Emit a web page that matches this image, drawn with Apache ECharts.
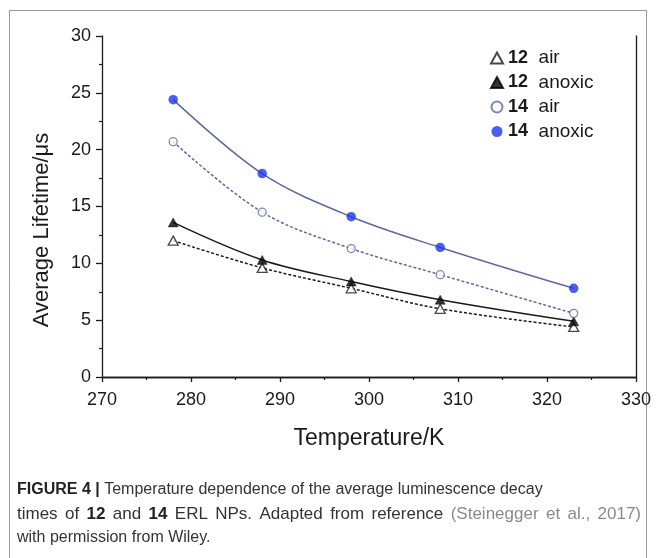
<!DOCTYPE html>
<html>
<head>
<meta charset="utf-8">
<script src="https://cdn.jsdelivr.net/npm/echarts@6/dist/echarts.min.js"></script>
<style>
html,body{margin:0;padding:0;background:#fff;}
#chart{width:657px;height:558px;}
</style>
</head>
<body>
<div id="chart"></div>
<script>
// Data
var temperatures = [278, 288, 298, 308, 323];
var air12 = [12.0, 9.6, 7.8, 6.0, 4.4];
var anoxic12 = [13.6, 10.3, 8.4, 6.8, 4.9];
var air14 = [20.7, 14.5, 11.3, 9.0, 5.6];
var anoxic14 = [24.4, 17.9, 14.1, 11.4, 7.8];
var seriesNames = ['12 air', '12 anoxic', '14 air', '14 anoxic'];
var xTickMin = 270, xTickMax = 330, xTickStep = 10;
var yTickMin = 0, yTickMax = 30, yTickStep = 5;

function pairs(xs, ys) { return xs.map(function (x, i) { return [x, ys[i]]; }); }

var FONT = '"Liberation Sans", Arial, sans-serif';
var blueLine = '#5d6a9e';
var blueFill = '#1f35ec';

var chart = echarts.init(document.getElementById('chart'), null, {renderer: 'canvas'});

function fitLine(name, ys, color, dashed) {
  return {
    name: name, type: 'line', data: pairs(temperatures, ys),
    smooth: 0.35, showSymbol: false, symbol: 'none', silent: true,
    lineStyle: {color: color, width: 1.5, type: dashed ? [3, 2] : 'solid'},
    z: 2
  };
}

// caption line 2, spread across the full caption width
var captionY = [490, 514, 538];
var capLeft = 17, capRight = 641;
var line2Words = [
  ['times', 'n'], ['of', 'n'], ['12', 'b'], ['and', 'n'], ['14', 'b'], ['ERL', 'n'], ['NPs.', 'n'],
  ['Adapted', 'n'], ['from', 'n'], ['reference', 'n'], ['(Steinegger', 'g'], ['et', 'g'], ['al.,', 'g'], ['2017)', 'g']
];
var styleFor = {
  n: {font: '17px ' + FONT, fill: '#333'},
  b: {font: 'bold 17px ' + FONT, fill: '#222'},
  g: {font: '17px ' + FONT, fill: '#8a8a8a'}
};
var mctx = document.createElement('canvas').getContext('2d');
var widths = line2Words.map(function (w) { mctx.font = styleFor[w[1]].font; return mctx.measureText(w[0]).width; });
var totalW = widths.reduce(function (a, b) { return a + b; }, 0);
var gap = (capRight - capLeft - totalW) / (line2Words.length - 1);
var line2Graphics = [];
var cx = capLeft;
line2Words.forEach(function (w, i) {
  line2Graphics.push({type: 'text', x: cx, y: captionY[1], silent: true,
    style: {text: w[0], font: styleFor[w[1]].font, fill: styleFor[w[1]].fill, verticalAlign: 'middle'}});
  cx += widths[i] + gap;
});

var option = {
  backgroundColor: '#fff',
  animation: false,
  textStyle: {fontFamily: FONT},
  grid: {left: 102, right: 21, top: 36, bottom: 181, containLabel: false},
  xAxis: [{
    type: 'value', min: xTickMin, max: xTickMax, interval: xTickStep,
    name: 'Temperature/K', nameLocation: 'middle', nameGap: 50,
    nameTextStyle: {fontSize: 23, color: '#1a1a1a', fontFamily: FONT},
    axisLine: {show: true, lineStyle: {color: '#1a1a1a', width: 1.3}},
    axisTick: {show: true, inside: false, length: 5, lineStyle: {color: '#1a1a1a', width: 1.3}},
    minorTick: {show: true, splitNumber: 2, length: 3, lineStyle: {color: '#1a1a1a', width: 1.2}},
    axisLabel: {fontSize: 18, color: '#1a1a1a', margin: 14, fontFamily: FONT},
    splitLine: {show: false}
  }, {
    type: 'value', min: xTickMin, max: xTickMax, position: 'top',
    axisLine: {show: true, lineStyle: {color: '#1a1a1a', width: 1.3}},
    axisTick: {show: false}, axisLabel: {show: false}, splitLine: {show: false}
  }],
  yAxis: [{
    type: 'value', min: yTickMin, max: yTickMax, interval: yTickStep,
    axisLine: {show: true, lineStyle: {color: '#1a1a1a', width: 1.3}},
    axisTick: {show: true, inside: false, length: 6, lineStyle: {color: '#1a1a1a', width: 1.3}},
    minorTick: {show: true, splitNumber: 2, length: 3, lineStyle: {color: '#1a1a1a', width: 1.2}},
    axisLabel: {fontSize: 18, color: '#1a1a1a', margin: 11, fontFamily: FONT},
    splitLine: {show: false}
  }, {
    type: 'value', min: yTickMin, max: yTickMax, position: 'right',
    axisLine: {show: true, lineStyle: {color: '#1a1a1a', width: 1.3}},
    axisTick: {show: false}, axisLabel: {show: false}, splitLine: {show: false}
  }],
  legend: {
    orient: 'vertical', left: 485, top: 43,
    itemWidth: 12, itemHeight: 11, itemGap: 4.5,
    data: [
      {name: seriesNames[0], icon: 'triangle'},
      {name: seriesNames[1], icon: 'triangle'},
      {name: seriesNames[2], icon: 'circle'},
      {name: seriesNames[3], icon: 'circle'}
    ],
    formatter: function (name) {
      var parts = name.split(' ');
      return '{b|' + parts[0] + '}  ' + parts[1];
    },
    textStyle: {
      fontSize: 19, color: '#1a1a1a', fontFamily: FONT, lineHeight: 20,
      rich: {b: {fontSize: 18, fontWeight: 'bold', color: '#1a1a1a', fontFamily: FONT, lineHeight: 20}}
    }
  },
  graphic: [
    {type: 'rect', z: -1, silent: true,
     shape: {x: 9.5, y: 10.5, width: 637, height: 600},
     style: {fill: null, stroke: '#9a9a9a', lineWidth: 1}},
    {type: 'text', x: 42, y: 230, rotation: Math.PI / 2, silent: true,
     style: {text: 'Average Lifetime/μs', font: '22px ' + FONT, fill: '#1a1a1a', align: 'center', verticalAlign: 'middle'}},
    {type: 'text', x: capLeft, y: captionY[0], silent: true,
     style: {text: '{b|FIGURE 4 |} Temperature dependence of the average luminescence decay',
       font: '16px ' + FONT, fill: '#333', verticalAlign: 'middle',
       rich: {b: {fontWeight: 'bold', fontSize: 16, fill: '#222', fontFamily: FONT}}}},
    {type: 'text', x: capLeft, y: captionY[2], silent: true,
     style: {text: 'with permission from Wiley.', font: '16px ' + FONT, fill: '#333', verticalAlign: 'middle'}}
  ].concat(line2Graphics),
  series: [
    fitLine('12 air fit', air12, '#1a1a1a', true),
    fitLine('12 anoxic fit', anoxic12, '#1a1a1a', false),
    fitLine('14 air fit', air14, blueLine, true),
    fitLine('14 anoxic fit', anoxic14, blueLine, false),
    {name: seriesNames[0], type: 'scatter', data: pairs(temperatures, air12), symbol: 'triangle', symbolSize: [10, 9],
     itemStyle: {color: '#ffffff', borderColor: '#1a1a1a', borderWidth: 1.3}, z: 5},
    {name: seriesNames[1], type: 'scatter', data: pairs(temperatures, anoxic12), symbol: 'triangle', symbolSize: [10, 9],
     itemStyle: {color: '#000000', borderColor: '#000000', borderWidth: 0.5}, z: 5},
    {name: seriesNames[2], type: 'scatter', data: pairs(temperatures, air14), symbol: 'circle', symbolSize: 8,
     itemStyle: {color: '#ffffff', borderColor: '#5d6a9e', borderWidth: 1.3}, z: 5},
    {name: seriesNames[3], type: 'scatter', data: pairs(temperatures, anoxic14), symbol: 'circle', symbolSize: 9.5,
     itemStyle: {color: blueFill, borderColor: blueFill, borderWidth: 0}, z: 5}
  ]
};
chart.setOption(option);
</script>
</body>
</html>
